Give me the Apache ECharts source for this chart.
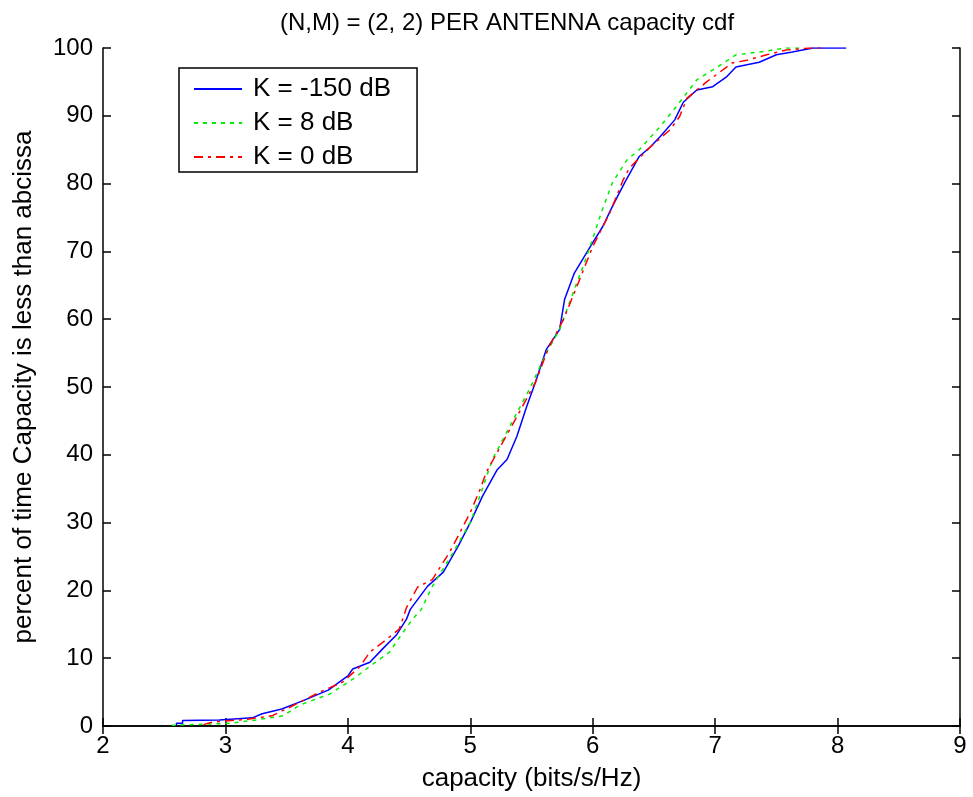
<!DOCTYPE html>
<html><head><meta charset="utf-8">
<script src="https://cdn.jsdelivr.net/npm/echarts@6/dist/echarts.min.js"></script>
<style>html,body{margin:0;padding:0;background:#fff}#c{width:973px;height:797px}</style>
</head><body><div id="c"></div>
<script>
const titleText = "(N,M) = (2, 2) PER ANTENNA capacity cdf";
const xName = "capacity (bits/s/Hz)";
const yName = "percent of time Capacity is less than abcissa";
const seriesNames = ["K = -150 dB", "K = 8 dB", "K = 0 dB"];
// [capacity, percent]
const blue = [[2.60,0.1],[2.60,0.4],[2.65,0.4],[2.65,0.8],[2.95,0.9],[3.22,1.2],[3.30,1.8],[3.46,2.5],[3.63,3.7],[3.84,5.3],[4.00,7.4],[4.04,8.4],[4.18,9.4],[4.28,11.3],[4.40,13.5],[4.48,15.8],[4.51,17.2],[4.65,20.6],[4.78,22.7],[4.90,26.5],[5.00,30.0],[5.10,33.9],[5.22,37.8],[5.30,39.3],[5.38,42.7],[5.46,47.1],[5.53,50.6],[5.62,55.5],[5.73,58.5],[5.77,62.9],[5.85,66.8],[6.00,71.3],[6.08,73.6],[6.16,76.6],[6.26,80.1],[6.38,84.0],[6.47,85.4],[6.55,86.9],[6.67,89.4],[6.74,92.0],[6.85,93.8],[6.98,94.3],[7.09,95.7],[7.17,97.2],[7.36,97.9],[7.50,99.0],[7.63,99.4],[7.80,100],[8.07,100]];
const green = [[2.56,0.1],[3.04,0.4],[3.25,0.9],[3.47,1.5],[3.61,3.1],[3.85,4.7],[4.04,6.9],[4.18,8.8],[4.34,10.9],[4.45,13.8],[4.53,15.8],[4.60,17.2],[4.69,20.6],[4.86,25.6],[5.00,30.0],[5.09,34.5],[5.18,39.3],[5.34,44.8],[5.49,49.9],[5.62,55.0],[5.73,58.5],[5.84,63.9],[5.95,69.2],[6.07,75.7],[6.16,80.1],[6.28,83.5],[6.38,85.0],[6.55,88.4],[6.68,91.3],[6.85,95.3],[7.01,97.1],[7.17,99.0],[7.36,99.4],[7.58,100],[7.70,100]];
const red = [[2.82,0.2],[2.90,0.6],[3.18,1.0],[3.38,1.5],[3.53,2.8],[3.77,5.0],[3.96,6.5],[4.10,8.8],[4.18,10.9],[4.29,12.4],[4.42,14.3],[4.48,17.5],[4.57,20.5],[4.69,21.6],[4.83,25.6],[4.90,28.0],[5.00,31.5],[5.08,34.9],[5.13,37.4],[5.27,42.0],[5.38,45.6],[5.47,48.6],[5.53,50.6],[5.64,55.8],[5.76,59.9],[5.87,64.8],[6.00,70.7],[6.14,75.7],[6.25,80.6],[6.30,82.3],[6.47,85.4],[6.63,87.9],[6.71,89.9],[6.77,92.6],[6.93,95.0],[7.14,97.8],[7.26,98.2],[7.42,99.0],[7.58,99.7],[7.77,100],[7.90,100]];

const F = "Liberation Sans, Arial, sans-serif";
const chart = echarts.init(document.getElementById('c'), null, {renderer:'canvas'});
const axisCommon = {
  axisLine:{show:true, lineStyle:{color:'#000', width:1.5}},
  axisTick:{show:true, inside:true, length:8, lineStyle:{color:'#000', width:1.5}},
  splitLine:{show:false}
};
chart.setOption({
  animation:false,
  backgroundColor:'#fff',
  title:{text:titleText, left:502, textAlign:'center', top:6,
    textStyle:{fontFamily:F, fontSize:24, fontWeight:'normal', color:'#000'}},
  grid:{left:103, right:13, top:48, bottom:70, containLabel:false},
  legend:{orient:'vertical', left:179, top:68,
    backgroundColor:'#fff', borderColor:'#000', borderWidth:1.5,
    padding:[8,26,2,14], itemWidth:48, itemHeight:14, itemGap:8,
    itemStyle:{color:'rgba(0,0,0,0)', borderWidth:0, opacity:0},
    textStyle:{fontFamily:F, fontSize:26, lineHeight:25, color:'#000', padding:[0,0,0,6]},
    data:seriesNames},
  xAxis:[
    Object.assign({type:'value', min:2, max:9, interval:1, position:'bottom',
      name:xName, nameLocation:'middle', nameGap:40,
      nameTextStyle:{fontFamily:F, fontSize:26, color:'#000'},
      axisLabel:{fontFamily:F, fontSize:24, color:'#000', margin:8}}, axisCommon),
    Object.assign({type:'value', min:2, max:9, interval:1, position:'top',
      axisLabel:{show:false}}, axisCommon)
  ],
  yAxis:[
    Object.assign({type:'value', min:0, max:100, interval:10, position:'left',
      name:yName, nameLocation:'middle', nameGap:66, nameRotate:90,
      nameTextStyle:{fontFamily:F, fontSize:26, color:'#000'},
      axisLabel:{fontFamily:F, fontSize:24, color:'#000', margin:10}}, axisCommon),
    Object.assign({type:'value', min:0, max:100, interval:10, position:'right',
      axisLabel:{show:false}}, axisCommon)
  ],
  series:[
    {name:seriesNames[0], type:'line', data:blue, showSymbol:false, symbol:'none',
      lineStyle:{color:'#0000ff', width:1.5}, itemStyle:{color:'#0000ff'}},
    {name:seriesNames[1], type:'line', data:green, showSymbol:false, symbol:'none',
      lineStyle:{color:'#00ee00', width:1.5, type:[4,5]}, itemStyle:{color:'#00ee00'}},
    {name:seriesNames[2], type:'line', data:red, showSymbol:false, symbol:'none',
      lineStyle:{color:'#ff0000', width:1.5, type:[9,5,3,5]}, itemStyle:{color:'#ff0000'}}
  ]
});
</script></body></html>
